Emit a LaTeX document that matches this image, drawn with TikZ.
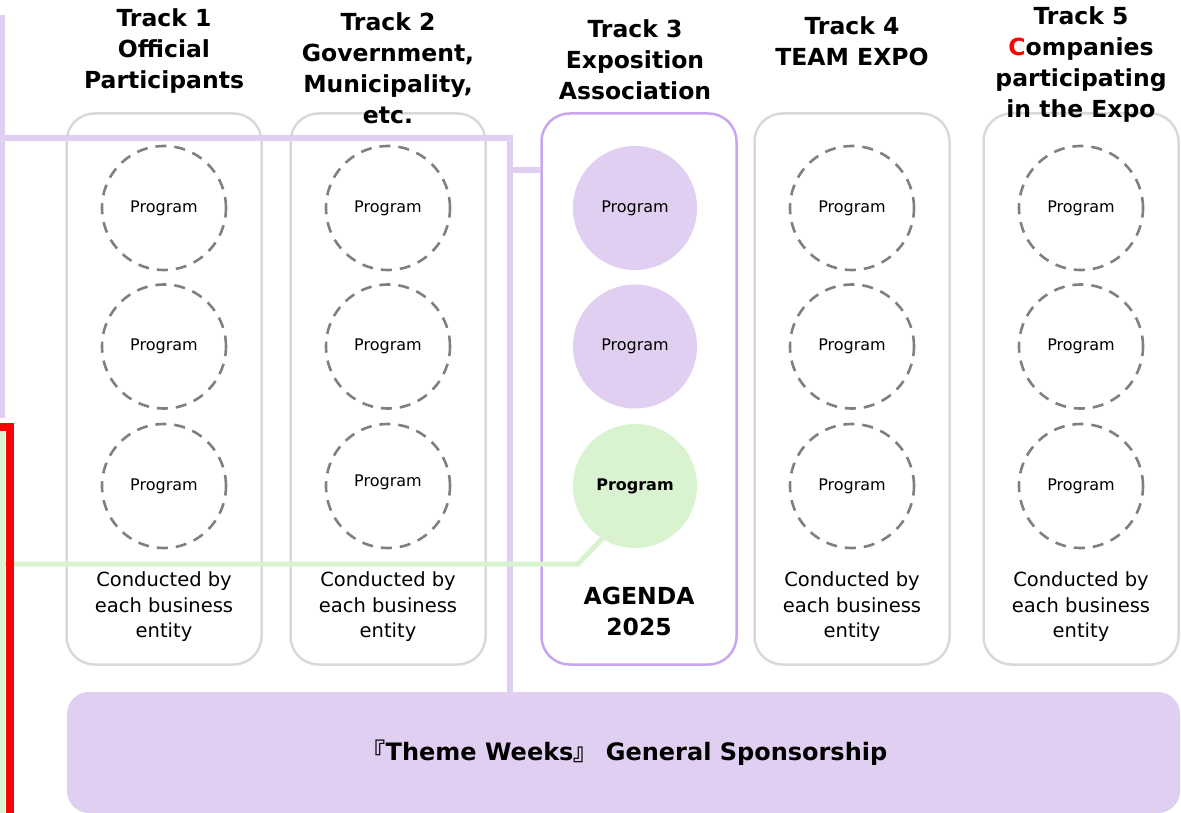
\documentclass[tikz,border=0pt]{standalone}
\usepackage{fontspec}
\setmainfont{DejaVu Sans}
\newfontfamily\cjk{Noto Sans CJK JP}
\usepackage{tikz}
\usetikzlibrary{calc}
\definecolor{frame}{HTML}{D9D9D9}
\definecolor{lilac}{HTML}{E1CFF1}
\definecolor{lilacedge}{HTML}{C8A6EE}
\definecolor{mint}{HTML}{D9F2D0}
\definecolor{dashgray}{HTML}{808080}
\definecolor{alert}{HTML}{FF0000}
\tikzset{
  track/.style={draw=frame, line width=2.5pt, rounded corners=28pt, minimum width=195pt, minimum height=551pt, inner sep=0pt},
  agendabox/.style={track, draw=lilacedge},
  prog/.style={circle, draw=dashgray, line width=2.6pt, dash pattern=on 11pt off 8pt, minimum size=124pt, inner sep=0pt, font=\fontsize{16}{19}\selectfont},
  progfill/.style={circle, fill=lilac, minimum size=124pt, inner sep=0pt, font=\fontsize{16}{19}\selectfont},
  head/.style={align=center, font=\bfseries\fontsize{23.5}{31}\selectfont},
  note/.style={align=center, font=\fontsize{19.5}{25.5}\selectfont},
  link/.style={draw=lilac, line width=5.5pt},
  greenlink/.style={draw=mint, line width=5pt, line join=round},
  alertline/.style={draw=alert, line width=8pt},
}

\begin{document}
\begin{tikzpicture}[x=1pt, y=-1pt]
  \fill[white] (0,0) rectangle (1181,813);
  \useasboundingbox (0,0) rectangle (1181,813);

  % track frames
  \node[track] (box1) at (164,389) {};
  \node[track] (box2) at (388,389) {};
  \node[agendabox] (box3) at (639,389) {};
  \node[track] (box4) at (852,389) {};
  \node[track] (box5) at (1081,389) {};

  % headings
  \node[head] (h1) at (164,51) {Track 1\\Official\\Participants};
  \node[head] (h2) at (388,68) {Track 2\\Government,\\Municipality,\\etc.};
  \node[head] (h3) at (635,60) {Track 3\\Exposition\\Association};
  \node[head] (h4) at (852,41) {Track 4\\TEAM EXPO};
  \node[head] (h5) at (1081,65) {Track 5\\\textcolor{alert}{C}ompanies\\participating\\in the Expo};

  % programs run by each business entity
  \foreach \t/\x/\dy in {1/164/0, 2/388/10, 4/852/0, 5/1081/0}{
    \node[prog] (p\t1) at (\x,208) {Program};
    \node[prog] (p\t2) at (\x,346.5) {Program};
    \node[prog] (p\t3) at (\x,486) {\raisebox{\dy pt}{Program}};
    \node[note] (n\t) at (\x,607) {Conducted by\\each business\\entity};
  }

  % exposition association programs
  \node[progfill] (p31) at (635,208) {Program};
  \node[progfill] (p32) at (635,346.5) {Program};
  \node[progfill, fill=mint, font=\bfseries\fontsize{16}{19}\selectfont] (p33) at (635,486) {Program};
  \node[head] (agenda) at (639,611) {AGENDA\\2025};

  % sponsorship banner
  \node[fill=lilac, rounded corners=22pt, minimum width=1113pt, minimum height=121pt,
        font=\bfseries\fontsize{24}{30}\selectfont] (banner) at (623.5,752.5)
        {\hspace{2pt}{\cjk 『}Theme Weeks{\cjk 』} General Sponsorship};

  % lilac links
  \coordinate (topL) at (2.5,15);
  \coordinate (botL) at (2.5,418);
  \draw[link] (topL) -- (botL);
  \coordinate (edgeA) at (0,138);
  \coordinate (bend) at (510,138);
  \draw[link] (edgeA) -- (bend) -- (bend |- banner.north);
  \coordinate (tap) at (510,170);
  \draw[link] (tap) -- (tap -| box3.west);

  % mint link to the agenda program
  \coordinate (mintTop) at (2.5,430);
  \coordinate (mintBot) at (2.5,820);
  \draw[greenlink] (mintTop) -- (mintBot);
  \coordinate (mintL) at (0,564);
  \coordinate (knee) at (578,564);
  \draw[greenlink] (mintL) -- (knee) -- (p33.238);

  % red marker
  \coordinate (redA) at (-10,426.5);
  \coordinate (redB) at (10,426.5);
  \coordinate (redC) at (10,825);
  \draw[alertline] (redA) -- (redB) -- (redC);
\end{tikzpicture}
\end{document}
